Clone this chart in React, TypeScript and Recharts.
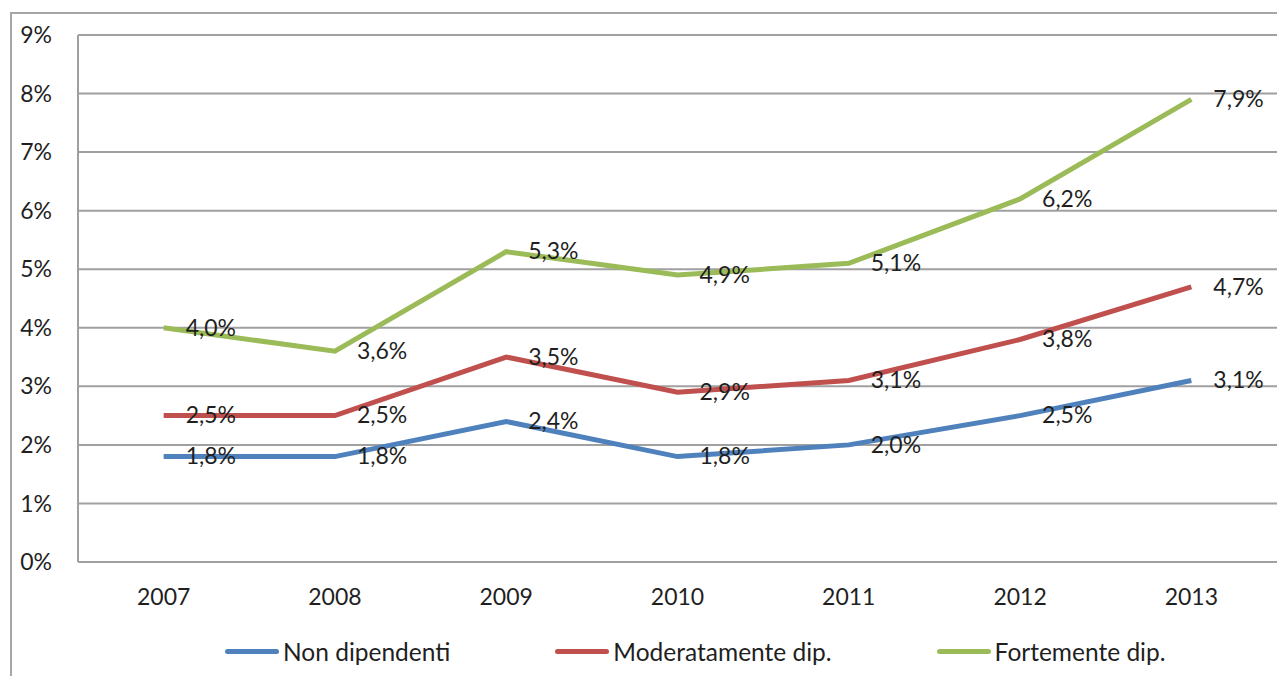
import {
  LineChart,
  Line,
  XAxis,
  YAxis,
  CartesianGrid,
  Legend,
  LabelList,
} from "recharts";

const years: string[] = ["2007", "2008", "2009", "2010", "2011", "2012", "2013"];
const nonDipendenti: number[] = [1.8, 1.8, 2.4, 1.8, 2.0, 2.5, 3.1];
const moderatamente: number[] = [2.5, 2.5, 3.5, 2.9, 3.1, 3.8, 4.7];
const fortemente: number[] = [4.0, 3.6, 5.3, 4.9, 5.1, 6.2, 7.9];
const yTicks: number[] = [0, 1, 2, 3, 4, 5, 6, 7, 8, 9];

const seriesNames = ["Non dipendenti", "Moderatamente dip.", "Fortemente dip."];
const COLORS: string[] = ["#4F81BD", "#C0504D", "#9BBB59"];
const FONT = "Lato, 'Open Sans', sans-serif";
const TEXT = "#1f1f1f";

const data = years.map((year, i) => ({
  year,
  s0: nonDipendenti[i],
  s1: moderatamente[i],
  s2: fortemente[i],
}));

function fmt(v: number) {
  return v.toFixed(1).replace(".", ",") + "%";
}

function renderLabel(props: any) {
  const { x, y, value } = props;
  return (
    <text
      x={x + 22}
      y={y + 2}
      dominantBaseline="middle"
      fontSize={23}
      fontFamily={FONT}
      fill={TEXT}
    >
      {fmt(value)}
    </text>
  );
}

function renderLegend() {
  return (
    <div
      style={{
        display: "flex",
        height: 40,
        alignItems: "center",
        paddingLeft: 225,
        fontFamily: FONT,
        fontSize: 24.5,
        color: TEXT,
      }}
    >
      {seriesNames.map((name, i) => (
        <div
          key={name}
          style={{ display: "flex", alignItems: "center", marginRight: 105 }}
        >
          <div
            style={{
              width: 54,
              height: 5,
              borderRadius: 3,
              background: COLORS[i],
              marginRight: 4,
            }}
          />
          <span>{name}</span>
        </div>
      ))}
    </div>
  );
}

export default function App() {
  return (
    <div
      style={{
        position: "absolute",
        left: 0,
        top: 0,
        width: 1277,
        height: 676,
        background: "#fff",
        overflow: "hidden",
      }}
    >
      <div
        style={{
          position: "absolute",
          left: 10,
          top: 12,
          width: 1300,
          height: 700,
          borderLeft: "2px solid #a6a6a6",
          borderTop: "2px solid #a6a6a6",
        }}
      />
      <LineChart
        width={1277}
        height={676}
        data={data}
        margin={{ top: 35, right: 0, left: 0, bottom: 5 }}
        style={{ position: "absolute", left: 0, top: 0 }}
      >
        <CartesianGrid vertical={false} stroke="#a0a0a0" strokeWidth={2} />
        <XAxis
          dataKey="year"
          scale="band"
          height={69}
          tickLine={false}
          tickSize={0}
          tickMargin={27}
          axisLine={{ stroke: "#a0a0a0", strokeWidth: 2 }}
          tick={{ fill: TEXT, fontSize: 23, fontFamily: FONT }}
        />
        <YAxis
          width={78}
          domain={[0, 9]}
          ticks={yTicks}
          tickFormatter={(v: number) => `${v}%`}
          tickLine={false}
          tickSize={0}
          tickMargin={26}
          axisLine={{ stroke: "#a0a0a0", strokeWidth: 2 }}
          tick={{ fill: TEXT, fontSize: 23, fontFamily: FONT }}
        />
        <Legend verticalAlign="bottom" content={renderLegend} />
        {["s0", "s1", "s2"].map((key, i) => (
          <Line
            key={key}
            type="linear"
            dataKey={key}
            name={seriesNames[i]}
            stroke={COLORS[i]}
            strokeWidth={5}
            dot={false}
            isAnimationActive={false}
          >
            <LabelList dataKey={key} content={renderLabel} />
          </Line>
        ))}
      </LineChart>
    </div>
  );
}
